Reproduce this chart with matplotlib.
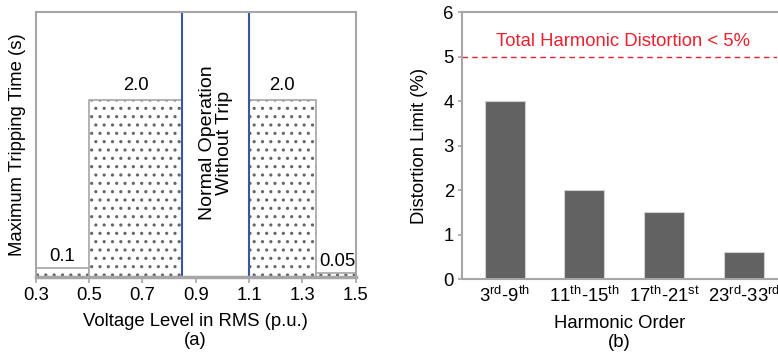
import matplotlib
matplotlib.use("Agg")
import matplotlib.pyplot as plt

plt.rcParams['font.family'] = ['Liberation Sans', 'DejaVu Sans']
plt.rcParams['mathtext.fontset'] = 'custom'
plt.rcParams['mathtext.rm'] = 'Liberation Sans'
plt.rcParams['mathtext.it'] = 'Liberation Sans:italic'
plt.rcParams['mathtext.bf'] = 'Liberation Sans:bold'
plt.rcParams['hatch.linewidth'] = 1.1

# (a) tripping time per voltage band
band_start = [0.3, 0.5, 1.1, 1.35]
band_end = [0.5, 0.85, 1.35, 1.5]
trip_time = [0.1, 2.0, 2.0, 0.05]
trip_labels = ['0.1', '2.0', '2.0', '0.05']
normal_lo, normal_hi = 0.85, 1.1
volt_ticks = [0.3, 0.5, 0.7, 0.9, 1.1, 1.3, 1.5]

# (b) harmonic limits
harmonics = [r'3$^{\mathrm{rd}}$-9$^{\mathrm{th}}$',
             r'11$^{\mathrm{th}}$-15$^{\mathrm{th}}$',
             r'17$^{\mathrm{th}}$-21$^{\mathrm{st}}$',
             r'23$^{\mathrm{rd}}$-33$^{\mathrm{rd}}$']
limits = [4.0, 2.0, 1.5, 0.6]
thd_limit = 5

grey = '#a6a6a6'
fs = 13.3

fig = plt.figure(figsize=(7.78, 3.57), dpi=100)
ax1 = fig.add_axes([0.046, 0.224, 0.411, 0.742])
ax2 = fig.add_axes([0.594, 0.218, 0.405, 0.748])

# ---- left panel
for s, e, h in zip(band_start, band_end, trip_time):
    # dotted fill first, then the grey outline on top
    ax1.bar(s, h, width=e - s, align='edge', facecolor='white',
            edgecolor='#666666', hatch='..', linewidth=0)
    ax1.bar(s, h, width=e - s, align='edge', facecolor='none',
            edgecolor=grey, linewidth=1.2)
ax1.text(0.4, 0.14, trip_labels[0], ha='center', va='bottom', fontsize=fs)
ax1.text(0.675, 2.07, trip_labels[1], ha='center', va='bottom', fontsize=fs)
ax1.text(1.225, 2.07, trip_labels[2], ha='center', va='bottom', fontsize=fs)
ax1.text(1.43, 0.08, trip_labels[3], ha='center', va='bottom', fontsize=fs)
ax1.axvline(normal_lo, color='#3a55a4', lw=1.5)
ax1.axvline(normal_hi, color='#3a55a4', lw=1.5)
ax1.text((normal_lo + normal_hi) / 2, 1.52, 'Normal Operation\nWithout Trip',
         rotation=90, ha='center', va='center', fontsize=14, linespacing=1.0)
ax1.set_xlim(0.3, 1.5)
ax1.set_ylim(0, 3)
ax1.set_xticks(volt_ticks)
ax1.set_xticklabels([f'{v:.1f}' for v in volt_ticks])
ax1.set_yticks([])
ax1.tick_params(axis='x', labelsize=fs, color=grey, length=4, width=1.2,
                direction='out', pad=3)
for sp in ax1.spines.values():
    sp.set_color(grey)
    sp.set_linewidth(1.5)
ax1.spines['bottom'].set_linewidth(2.5)
ax1.set_ylabel('Maximum Tripping Time (s)', fontsize=fs, labelpad=7)
ax1.set_xlabel('Voltage Level in RMS (p.u.)\n(a)', fontsize=fs, labelpad=7,
               linespacing=1.15)

# ---- right panel
xpos = list(range(len(harmonics)))
ax2.bar(xpos, limits, width=0.5, color='#626262', edgecolor='#d0d0d0',
        linewidth=0.8)
ax2.axhline(thd_limit, color='#e8222e', lw=1, ls=(0, (4, 3)))
ax2.text(1.48, 5.35, 'Total Harmonic Distortion < 5%', color='#e8222e',
         ha='center', va='center', fontsize=fs)
ax2.set_xlim(-0.53, 3.41)
ax2.set_ylim(0, 6)
ax2.set_yticks(range(0, 7))
ax2.set_xticks(xpos)
ax2.set_xticklabels(harmonics)
ax2.tick_params(axis='x', labelsize=fs, length=0, pad=5)
ax2.tick_params(axis='y', labelsize=fs, length=3, width=1.2, color=grey, pad=3)
for sp in ['left', 'top', 'bottom']:
    ax2.spines[sp].set_color(grey)
    ax2.spines[sp].set_linewidth(1.5)
ax2.spines['right'].set_visible(False)
ax2.set_ylabel('Distortion Limit (%)', fontsize=fs, labelpad=11)
ax2.set_xlabel('Harmonic Order\n(b)', fontsize=fs, labelpad=6, linespacing=1.15)

fig.savefig('out.png', dpi=100)
